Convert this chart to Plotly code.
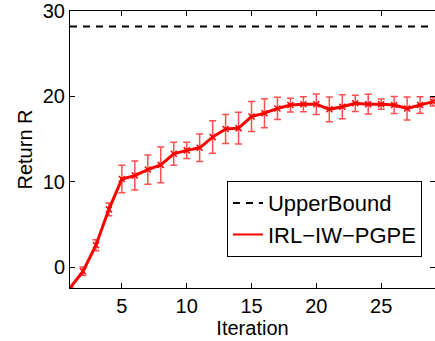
import plotly.graph_objects as go

iterations = list(range(1, 30))
returns = [-2.4, -0.45, 2.6, 6.8, 10.35, 10.75, 11.45, 12.0, 13.3, 13.7,
           14.0, 15.25, 16.2, 16.3, 17.65, 18.05, 18.6, 19.0, 19.1, 19.1,
           18.5, 18.8, 19.2, 19.1, 19.1, 19.0, 18.6, 19.0, 19.4]
errors = [0.1, 0.5, 0.65, 0.75, 1.6, 1.7, 1.7, 2.1, 1.35, 0.95,
          1.6, 1.9, 1.7, 1.85, 1.75, 1.7, 1.3, 0.8, 0.88, 1.2,
          1.45, 1.4, 0.95, 1.15, 0.6, 1.0, 1.35, 0.97, 0.5]
upper_bound = 28.2

FONT = "Liberation Sans, Arial, sans-serif"

fig = go.Figure()
fig.add_trace(go.Scatter(
    x=iterations, y=[upper_bound] * len(iterations), mode="lines",
    line=dict(color="black", width=2, dash="7px,6px"),
    name="UpperBound", showlegend=True))
fig.add_trace(go.Scatter(
    x=iterations, y=returns, mode="lines+markers",
    line=dict(color="#ff0000", width=3),
    marker=dict(symbol="x-thin", size=6, line=dict(color="#ff0000", width=1.5)),
    error_y=dict(type="data", array=errors, visible=True,
                 color="rgba(255,20,20,0.75)", thickness=1.5, width=3.5),
    name="IRL\u2212IW\u2212PGPE", showlegend=False))
fig.add_trace(go.Scatter(
    x=[None], y=[None], mode="lines",
    line=dict(color="#ff0000", width=2),
    name="IRL\u2212IW\u2212PGPE", showlegend=True))

axis_common = dict(showline=True, linecolor="black", linewidth=1, mirror="ticks",
                   ticks="inside", ticklen=5, tickcolor="black", showgrid=False,
                   zeroline=False, automargin=False,
                   tickfont=dict(size=20, color="black", family=FONT))
fig.update_xaxes(range=[1, 29.15], tickvals=[5, 10, 15, 20, 25],
                 title=dict(text="Iteration", standoff=0,
                            font=dict(size=20, color="black", family=FONT)),
                 **axis_common)
fig.update_yaxes(range=[-2.4, 30], tickvals=[0, 10, 20, 30], **axis_common)

fig.add_annotation(text="Return R", textangle=-90, xref="paper", yref="paper",
                   x=-0.126, y=0.5, xanchor="center", yanchor="middle",
                   showarrow=False, font=dict(size=20, color="black", family=FONT))

fig.update_layout(
    width=435, height=341,
    margin=dict(l=70, r=0, t=11, b=53),
    plot_bgcolor="white", paper_bgcolor="white",
    font=dict(family=FONT, size=20, color="black"),
    legend=dict(x=0.43, y=0.386, xanchor="left", yanchor="top",
                bordercolor="black", borderwidth=1, bgcolor="white",
                font=dict(size=22, family=FONT), tracegroupgap=0,
                itemwidth=30),
)

fig.write_html("out.html", config={"displayModeBar": False},
               post_script="document.body.style.margin='0';document.body.style.overflow='hidden';")
